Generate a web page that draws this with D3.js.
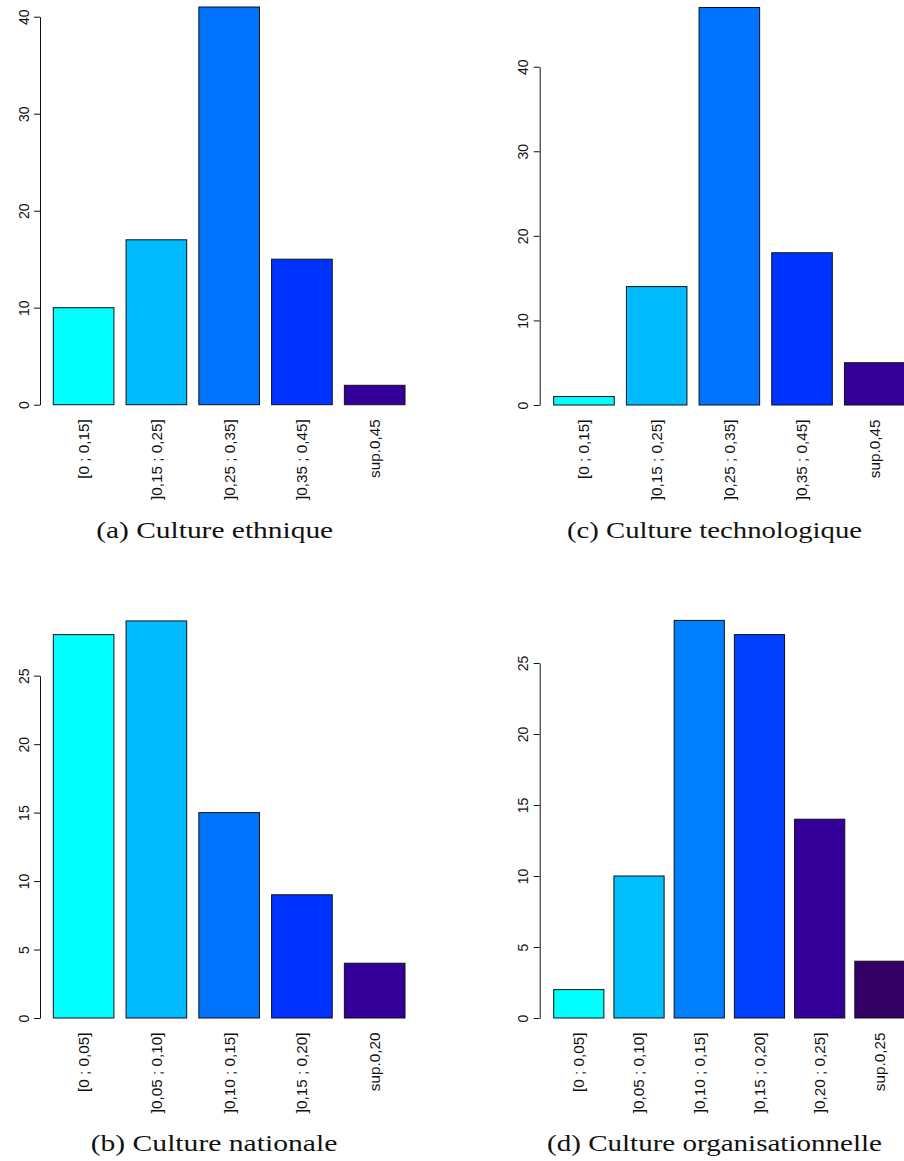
<!DOCTYPE html>
<html>
<head>
<meta charset="utf-8">
<script src="https://cdn.jsdelivr.net/npm/d3@7"></script>
<style>
  html, body { margin: 0; padding: 0; background: #fff; }
  svg { display: block; }
</style>
</head>
<body>
<svg id="chart" width="904" height="1161"></svg>
<script>
// ---------- data ----------
const catsEthnique = ["[0 ; 0,15]", "]0,15 ; 0,25]", "]0,25 ; 0,35]", "]0,35 ; 0,45]", "sup.0,45"];
const valsEthnique = [10, 17, 41, 15, 2];
const ticksEthnique = [0, 10, 20, 30, 40];

const catsTechno = ["[0 ; 0,15]", "]0,15 ; 0,25]", "]0,25 ; 0,35]", "]0,35 ; 0,45]", "sup.0,45"];
const valsTechno = [1, 14, 47, 18, 5];
const ticksTechno = [0, 10, 20, 30, 40];

const catsNationale = ["[0 ; 0,05]", "]0,05 ; 0,10]", "]0,10 ; 0,15]", "]0,15 ; 0,20]", "sup.0,20"];
const valsNationale = [28, 29, 15, 9, 4];
const ticksNationale = [0, 5, 10, 15, 20, 25];

const catsOrga = ["[0 ; 0,05]", "]0,05 ; 0,10]", "]0,10 ; 0,15]", "]0,15 ; 0,20]", "]0,20 ; 0,25]", "sup.0,25"];
const valsOrga = [2, 10, 28, 27, 14, 4];
const ticksOrga = [0, 5, 10, 15, 20, 25];

const colors5 = ["#00FFFF", "#00BBFF", "#0073FF", "#0033FF", "#330099"];
const colors6 = ["#00FFFF", "#00BFFF", "#0080FF", "#0040FF", "#330099", "#330066"];

const captions = ["(a) Culture ethnique", "(c) Culture technologique", "(b) Culture nationale", "(d) Culture organisationnelle"];

// ---------- layout ----------
const panels = [
  { cats: catsEthnique, vals: valsEthnique, ticks: ticksEthnique, colors: colors5, caption: captions[0],
    axisX: 40, barL: 53.3, barR: 405, y0: 404.7, yTop: 16.7, capX: 214.7, capY: 538, capW: 237 },
  { cats: catsTechno, vals: valsTechno, ticks: ticksTechno, colors: colors5, caption: captions[1],
    axisX: 539.7, barL: 553.7, barR: 905, y0: 405, yTop: 66.7, capX: 714.5, capY: 538, capW: 295 },
  { cats: catsNationale, vals: valsNationale, ticks: ticksNationale, colors: colors5, caption: captions[2],
    axisX: 40, barL: 53.3, barR: 405, y0: 1018, yTop: 675.7, capX: 214, capY: 1150.5, capW: 246.7 },
  { cats: catsOrga, vals: valsOrga, ticks: ticksOrga, colors: colors6, caption: captions[3],
    axisX: 539.7, barL: 553.7, barR: 905, y0: 1018, yTop: 663, capX: 714.5, capY: 1150.5, capW: 335 }
];

const svg = d3.select("#chart");

panels.forEach(p => {
  const g = svg.append("g");
  const x = d3.scaleBand()
    .domain(p.cats)
    .range([p.barL, p.barR])
    .paddingInner(0.2 / 1.2)
    .paddingOuter(0);
  const maxTick = p.ticks[p.ticks.length - 1];
  const y = d3.scaleLinear().domain([0, maxTick]).range([p.y0, p.yTop]);

  // bars
  g.selectAll("rect.bar")
    .data(p.vals)
    .join("rect")
    .attr("class", "bar")
    .attr("x", (d, i) => x(p.cats[i]))
    .attr("y", d => y(d))
    .attr("width", x.bandwidth())
    .attr("height", d => y(0) - y(d))
    .attr("fill", (d, i) => p.colors[i])
    .attr("stroke", "#111")
    .attr("stroke-width", 1);

  // y axis
  const axis = d3.axisLeft(y)
    .tickValues(p.ticks)
    .tickSizeInner(6)
    .tickSizeOuter(0)
    .tickFormat(d3.format("d"));
  const ag = g.append("g")
    .attr("transform", `translate(${p.axisX},0)`)
    .call(axis);
  ag.select(".domain").attr("stroke", "#111").attr("stroke-width", 1);
  ag.selectAll(".tick line").attr("stroke", "#111").attr("stroke-width", 1);
  ag.selectAll(".tick text")
    .attr("x", null).attr("dy", null)
    .attr("transform", "translate(-11.5,0) rotate(-90)")
    .attr("text-anchor", "middle")
    .attr("font-family", "'Liberation Sans', Arial, sans-serif")
    .attr("font-size", 14)
    .attr("fill", "#111");

  // category labels
  g.selectAll("text.cat")
    .data(p.cats)
    .join("text")
    .attr("class", "cat")
    .attr("transform", d => `translate(${x(d) + x.bandwidth() / 2}, ${p.y0 + 14.5}) rotate(-90)`)
    .attr("text-anchor", "end")
    .attr("dy", "0.35em")
    .attr("font-family", "'Liberation Sans', Arial, sans-serif")
    .attr("font-size", 15.3)
    .attr("fill", "#111")
    .text(d => d);

  // caption
  g.append("text")
    .attr("x", p.capX)
    .attr("y", p.capY)
    .attr("text-anchor", "middle")
    .attr("font-family", "'Liberation Serif', 'Times New Roman', serif")
    .attr("font-size", 24)
    .attr("textLength", p.capW)
    .attr("lengthAdjust", "spacingAndGlyphs")
    .attr("fill", "#111")
    .text(p.caption);
});
</script>
</body>
</html>
